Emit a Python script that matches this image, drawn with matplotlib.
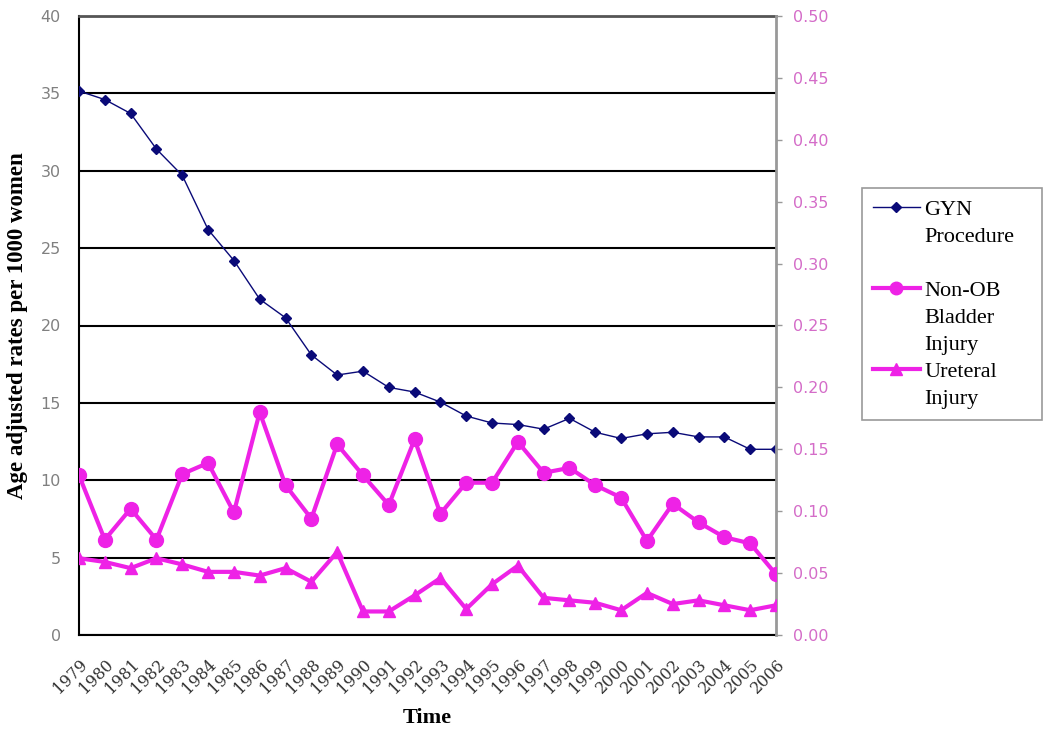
import numpy as np
import matplotlib
matplotlib.use("Agg")
import matplotlib.pyplot as plt
from matplotlib.lines import Line2D
from matplotlib.ticker import FormatStrFormatter, MultipleLocator

# ---------------- data ----------------
years = [1979, 1980, 1981, 1982, 1983, 1984, 1985, 1986, 1987, 1988,
         1989, 1990, 1991, 1992, 1993, 1994, 1995, 1996, 1997, 1998,
         1999, 2000, 2001, 2002, 2003, 2004, 2005, 2006]

gyn_procedure = [35.15, 34.6, 33.7, 31.4, 29.7, 26.2, 24.2, 21.7, 20.5, 18.1,
                 16.8, 17.05, 16.0, 15.7, 15.05, 14.15, 13.7, 13.6, 13.3, 14.0,
                 13.1, 12.7, 13.0, 13.1, 12.8, 12.8, 12.0, 12.0]

bladder_injury = [0.129, 0.077, 0.102, 0.077, 0.130, 0.139, 0.099, 0.180, 0.121, 0.094,
                  0.154, 0.129, 0.105, 0.158, 0.098, 0.123, 0.123, 0.156, 0.131, 0.135,
                  0.121, 0.111, 0.076, 0.106, 0.091, 0.079, 0.074, 0.049]

ureteral_injury = [0.062, 0.059, 0.054, 0.062, 0.057, 0.051, 0.051, 0.048, 0.054, 0.043,
                   0.067, 0.019, 0.019, 0.032, 0.046, 0.021, 0.041, 0.056, 0.030, 0.028,
                   0.026, 0.020, 0.034, 0.025, 0.028, 0.024, 0.020, 0.024]

series_names = ["GYN\nProcedure", "Non-OB\nBladder\nInjury", "Ureteral\nInjury"]
y_left_label = "Age adjusted rates per 1000 women"
x_label = "Time"

# ---------------- style ----------------
navy = "#0a0a78"
magenta = "#ee22e6"
right_tick_color = "#d46cc8"
left_tick_color = "#808080"

fig = plt.figure(figsize=(10.5, 7.34), dpi=100)
ax = fig.add_axes([79 / 1050, 1 - 635 / 734, (776 - 79) / 1050, (635 - 16) / 734])
ax2 = ax.twinx()

x = np.arange(len(years))

# left axis: GYN procedures
ax.plot(x, gyn_procedure, color=navy, lw=1.0, marker="D", ms=5.5,
        mfc=navy, mec=navy, zorder=3)
ax.set_ylim(0, 40)
ax.set_xlim(0, len(years) - 1)
ax.yaxis.set_major_locator(MultipleLocator(5))
ax.grid(axis="y", color="black", lw=1.5)
ax.set_axisbelow(True)

ax.set_xticks(x)
ax.set_xticklabels([str(y) for y in years], rotation=45, ha="right",
                   rotation_mode="anchor", family="DejaVu Serif",
                   fontsize=11.5, color="#333333")
ax.tick_params(axis="x", length=0, pad=15)
ax.tick_params(axis="y", length=0, pad=13, labelsize=11.5,
               labelcolor=left_tick_color)

for side in ["left", "bottom"]:
    ax.spines[side].set_color("black")
    ax.spines[side].set_linewidth(1.5)
ax.spines["top"].set_color("#555555")
ax.spines["top"].set_linewidth(2)
ax.spines["right"].set_visible(False)

ax.set_ylabel(y_left_label, family="Liberation Serif", fontweight="bold",
              fontsize=16.5, labelpad=9)
ax.set_xlabel(x_label, family="Liberation Serif", fontweight="bold",
              fontsize=16, labelpad=8)

# right axis: injuries
ax2.plot(x, bladder_injury, color=magenta, lw=3, marker="o", ms=10,
         mfc=magenta, mec=magenta, zorder=3)
ax2.plot(x, ureteral_injury, color=magenta, lw=3, marker="^", ms=9,
         mfc=magenta, mec=magenta, zorder=3)
ax2.set_ylim(0, 0.5)
ax2.yaxis.set_major_locator(MultipleLocator(0.05))
ax2.yaxis.set_major_formatter(FormatStrFormatter("%.2f"))
ax2.tick_params(axis="y", length=4, width=1, color="#999999", pad=8,
                labelsize=11.5, labelcolor=right_tick_color)
for side in ["left", "bottom", "top"]:
    ax2.spines[side].set_visible(False)
ax2.spines["right"].set_color("#999999")
ax2.spines["right"].set_linewidth(2)

# ---------------- legend ----------------
proto = [
    Line2D([], [], color=navy, lw=1.0, marker="D", ms=5.5, mfc=navy, mec=navy),
    Line2D([], [], color=magenta, lw=3, marker="o", ms=9, mfc=magenta, mec=magenta),
    Line2D([], [], color=magenta, lw=3, marker="^", ms=9, mfc=magenta, mec=magenta),
]
blank = Line2D([], [], linestyle="none")
handles, labels = [], []
for i, (h, name) in enumerate(zip(proto, series_names)):
    rows = name.split("\n")
    for j, r in enumerate(rows):
        handles.append(h if j == 0 else blank)
        labels.append(r)
    if i == 0:
        handles.append(blank)
        labels.append(" ")

leg = fig.legend(handles, labels, loc="upper left",
                 bbox_to_anchor=(862 / 1050, 1 - 431 / 734, 180 / 1050, 243 / 734),
                 mode="expand",
                 prop={"family": "Liberation Serif", "size": 16},
                 frameon=True, fancybox=False, shadow=False,
                 edgecolor="#808080", handlelength=2.1, handletextpad=0.2,
                 labelspacing=0.29, borderpad=0.5, borderaxespad=0)
leg.get_frame().set_linewidth(1.2)

fig.savefig("out.png", dpi=100, facecolor="white")
